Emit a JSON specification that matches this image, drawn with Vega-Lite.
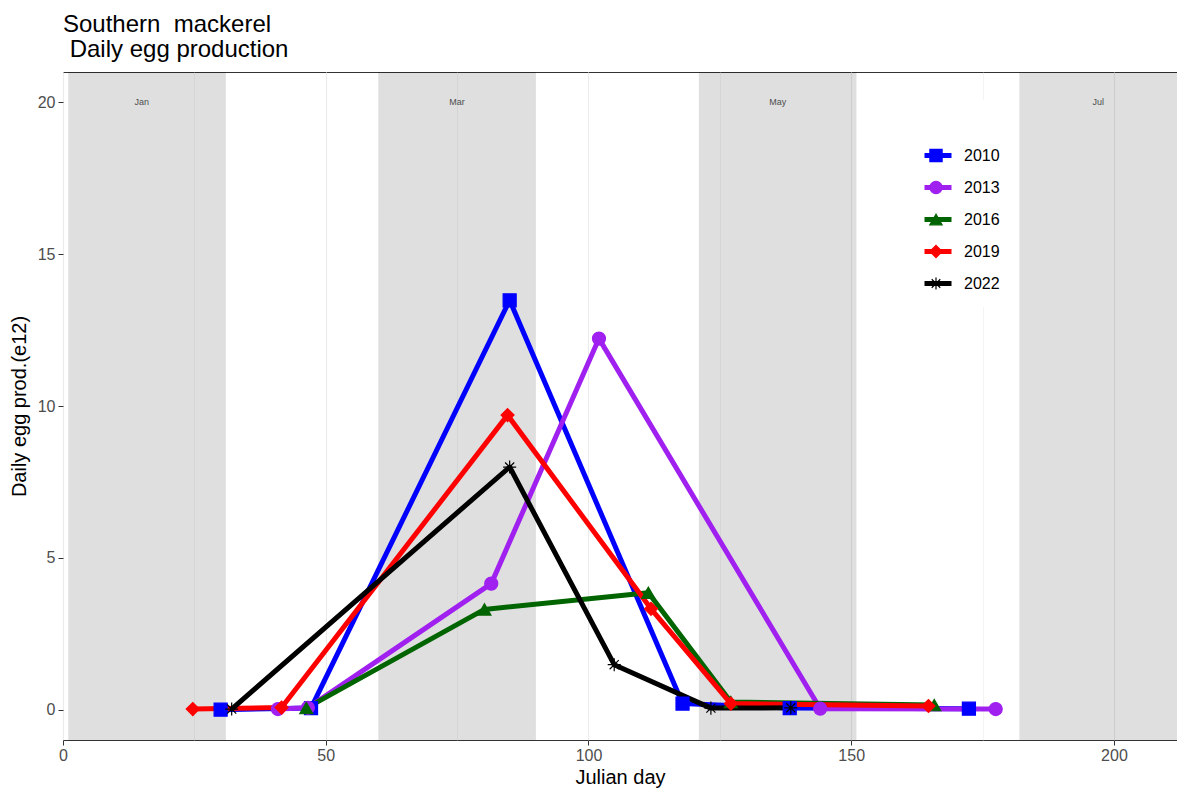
{
  "$schema": "https://vega.github.io/schema/vega-lite/v6.json",
  "width": 1114,
  "height": 668,
  "autosize": {"type": "none"},
  "padding": {"left": 63, "top": 72, "right": 0, "bottom": 49},
  "background": "white",
  "title": {"text": ["Southern\u00a0 mackerel", "\u200b\u00a0Daily egg production"], "anchor": "start", "frame": "group", "font": "Liberation Sans", "fontSize": 24, "fontWeight": "normal", "color": "black", "lineHeight": 25, "offset": 10},
  "config": {"view": {"stroke": "#333333", "strokeWidth": 1}, "font": "Liberation Sans"},
  "datasets": {
    "months": [
      {"month": "Jan", "start": 1, "end": 31, "mid": 15},
      {"month": "Mar", "start": 60, "end": 90, "mid": 75},
      {"month": "May", "start": 121, "end": 151, "mid": 136},
      {"month": "Jul", "start": 182, "end": 212, "mid": 197}
    ],
    "eggs": [
      {"year": "2010", "series": "2010", "day": 30, "dep": 0},
      {"year": "2010", "series": "2010", "day": 47.2, "dep": 0.05},
      {"year": "2010", "series": "2010", "day": 85, "dep": 13.48},
      {"year": "2010", "series": "2010", "day": 117.9, "dep": 0.2},
      {"year": "2010", "series": "2010", "day": 138.3, "dep": 0.05},
      {"year": "2010", "series": "2010", "day": 172.4, "dep": 0.03},
      {"year": "2013", "series": "2013", "day": 40.9, "dep": 0.02},
      {"year": "2013", "series": "2013", "day": 46.6, "dep": 0.06},
      {"year": "2013", "series": "2013", "day": 81.5, "dep": 4.15},
      {"year": "2013", "series": "2013", "day": 102, "dep": 12.22},
      {"year": "2013", "series": "2013", "day": 144.1, "dep": 0.03},
      {"year": "2013", "series": "2013", "day": 177.5, "dep": 0.02},
      {"year": "2016", "series": "2016", "day": 46.3, "dep": 0.05},
      {"year": "2016", "series": "2016", "day": 80.2, "dep": 3.3},
      {"year": "2016", "series": "2016", "day": 111.4, "dep": 3.85},
      {"year": "2016", "series": "2016", "day": 127.1, "dep": 0.25},
      {"year": "2016", "series": "2016", "day": 165.8, "dep": 0.15},
      {"year": "2019", "series": "2019", "day": 24.7, "dep": 0.02},
      {"year": "2019", "series": "2019", "day": 41.6, "dep": 0.07},
      {"year": "2019", "series": "2019", "day": 84.6, "dep": 9.7},
      {"year": "2019", "series": "2019", "day": 111.9, "dep": 3.32},
      {"year": "2019", "series": "2019", "day": 127.1, "dep": 0.2},
      {"year": "2019", "series": "2019", "day": 164.7, "dep": 0.12},
      {"year": "2022", "series": "2022", "day": 32.1, "dep": 0.02},
      {"year": "2022", "series": "2022", "day": 85, "dep": 7.99},
      {"year": "2022", "series": "2022", "day": 104.9, "dep": 1.48},
      {"year": "2022", "series": "2022", "day": 123.3, "dep": 0.05},
      {"year": "2022", "series": "2022", "day": 138.5, "dep": 0.06}
    ]
  },
  "layer": [
    {
      "data": {"name": "months"},
      "mark": {"type": "rect", "fill": "#000000", "fillOpacity": 0.125},
      "encoding": {
        "x": {"field": "start", "type": "quantitative", "scale": {"domain": [0, 212], "nice": false, "zero": false},
          "axis": {"title": "Julian day", "values": [0, 25, 50, 75, 100, 125, 150, 175, 200], "format": "d", "labelFlush": false, "labelExpr": "datum.value % 50 === 0 ? datum.label : ''", "tickOpacity": {"condition": {"test": "datum.value % 50 === 0", "value": 1}, "value": 0}, "gridWidth": {"condition": {"test": "datum.value % 50 === 0", "value": 1.1}, "value": 0.55}, "gridColor": "#ebebeb", "domain": false, "tickColor": "#333333", "tickSize": 5, "labelFontSize": 16, "labelColor": "#4d4d4d", "labelFont": "Liberation Sans", "labelPadding": 2, "titleFont": "Liberation Sans", "titleFontSize": 20, "titleFontWeight": "normal", "titleColor": "black", "titlePadding": 4}},
        "x2": {"field": "end"}
      }
    },
    {
      "data": {"name": "months"},
      "mark": {"type": "text", "fontSize": 9, "color": "#4d4d4d", "font": "Liberation Sans"},
      "encoding": {
        "x": {"field": "mid", "type": "quantitative", "scale": {"domain": [0, 212], "nice": false, "zero": false},
          "axis": {"title": "Julian day", "values": [0, 25, 50, 75, 100, 125, 150, 175, 200], "format": "d", "labelFlush": false, "labelExpr": "datum.value % 50 === 0 ? datum.label : ''", "tickOpacity": {"condition": {"test": "datum.value % 50 === 0", "value": 1}, "value": 0}, "gridWidth": {"condition": {"test": "datum.value % 50 === 0", "value": 1.1}, "value": 0.55}, "gridColor": "#ebebeb", "domain": false, "tickColor": "#333333", "tickSize": 5, "labelFontSize": 16, "labelColor": "#4d4d4d", "labelFont": "Liberation Sans", "labelPadding": 2, "titleFont": "Liberation Sans", "titleFontSize": 20, "titleFontWeight": "normal", "titleColor": "black", "titlePadding": 4}},
        "y": {"datum": 20, "type": "quantitative", "scale": {"domain": [-1, 21], "nice": false, "zero": false},
          "axis": {"title": "Daily egg prod.(e12)", "values": [0, 2.5, 5, 7.5, 10, 12.5, 15, 17.5, 20], "labelExpr": "datum.value % 5 === 0 ? datum.label : ''", "tickOpacity": {"condition": {"test": "datum.value % 5 === 0", "value": 1}, "value": 0}, "gridWidth": {"condition": {"test": "datum.value % 5 === 0", "value": 1.1}, "value": 0.55}, "gridColor": "#ebebeb", "domain": false, "tickColor": "#333333", "tickSize": 5, "labelFontSize": 16, "labelColor": "#4d4d4d", "labelFont": "Liberation Sans", "labelPadding": 3, "titleFont": "Liberation Sans", "titleFontSize": 20, "titleFontWeight": "normal", "titleColor": "black", "titlePadding": 8}},
        "text": {"field": "month"}
      }
    },
    {
      "data": {"name": "eggs"},
      "mark": {"type": "line", "strokeWidth": 5, "strokeJoin": "round"},
      "encoding": {
        "x": {"field": "day", "type": "quantitative", "scale": {"domain": [0, 212], "nice": false, "zero": false},
          "axis": {"title": "Julian day", "values": [0, 25, 50, 75, 100, 125, 150, 175, 200], "format": "d", "labelFlush": false, "labelExpr": "datum.value % 50 === 0 ? datum.label : ''", "tickOpacity": {"condition": {"test": "datum.value % 50 === 0", "value": 1}, "value": 0}, "gridWidth": {"condition": {"test": "datum.value % 50 === 0", "value": 1.1}, "value": 0.55}, "gridColor": "#ebebeb", "domain": false, "tickColor": "#333333", "tickSize": 5, "labelFontSize": 16, "labelColor": "#4d4d4d", "labelFont": "Liberation Sans", "labelPadding": 2, "titleFont": "Liberation Sans", "titleFontSize": 20, "titleFontWeight": "normal", "titleColor": "black", "titlePadding": 4}},
        "y": {"field": "dep", "type": "quantitative", "scale": {"domain": [-1, 21], "nice": false, "zero": false},
          "axis": {"title": "Daily egg prod.(e12)", "values": [0, 2.5, 5, 7.5, 10, 12.5, 15, 17.5, 20], "labelExpr": "datum.value % 5 === 0 ? datum.label : ''", "tickOpacity": {"condition": {"test": "datum.value % 5 === 0", "value": 1}, "value": 0}, "gridWidth": {"condition": {"test": "datum.value % 5 === 0", "value": 1.1}, "value": 0.55}, "gridColor": "#ebebeb", "domain": false, "tickColor": "#333333", "tickSize": 5, "labelFontSize": 16, "labelColor": "#4d4d4d", "labelFont": "Liberation Sans", "labelPadding": 3, "titleFont": "Liberation Sans", "titleFontSize": 20, "titleFontWeight": "normal", "titleColor": "black", "titlePadding": 8}},
        "color": {"field": "series", "type": "nominal",
          "scale": {"range": ["#0000ff", "#a020f0", "#006400", "#ff0000", "#000000"]},
          "legend": {"orient": "none", "legendX": 849, "legendY": 28, "zindex": 1, "title": " ", "titleFontSize": 16, "titlePadding": 16, "symbolType": "stroke", "symbolStrokeWidth": 5, "symbolSize": 729, "clipHeight": 27, "rowPadding": 5, "labelFontSize": 16, "labelFont": "Liberation Sans", "labelColor": "black", "labelOffset": 10, "fillColor": "white", "padding": 10}}
      }
    },
    {
      "data": {"name": "eggs"},
      "mark": {"type": "point", "filled": true, "strokeWidth": 1.2, "opacity": 1},
      "encoding": {
        "x": {"field": "day", "type": "quantitative", "scale": {"domain": [0, 212], "nice": false, "zero": false},
          "axis": {"title": "Julian day", "values": [0, 25, 50, 75, 100, 125, 150, 175, 200], "format": "d", "labelFlush": false, "labelExpr": "datum.value % 50 === 0 ? datum.label : ''", "tickOpacity": {"condition": {"test": "datum.value % 50 === 0", "value": 1}, "value": 0}, "gridWidth": {"condition": {"test": "datum.value % 50 === 0", "value": 1.1}, "value": 0.55}, "gridColor": "#ebebeb", "domain": false, "tickColor": "#333333", "tickSize": 5, "labelFontSize": 16, "labelColor": "#4d4d4d", "labelFont": "Liberation Sans", "labelPadding": 2, "titleFont": "Liberation Sans", "titleFontSize": 20, "titleFontWeight": "normal", "titleColor": "black", "titlePadding": 4}},
        "y": {"field": "dep", "type": "quantitative", "scale": {"domain": [-1, 21], "nice": false, "zero": false},
          "axis": {"title": "Daily egg prod.(e12)", "values": [0, 2.5, 5, 7.5, 10, 12.5, 15, 17.5, 20], "labelExpr": "datum.value % 5 === 0 ? datum.label : ''", "tickOpacity": {"condition": {"test": "datum.value % 5 === 0", "value": 1}, "value": 0}, "gridWidth": {"condition": {"test": "datum.value % 5 === 0", "value": 1.1}, "value": 0.55}, "gridColor": "#ebebeb", "domain": false, "tickColor": "#333333", "tickSize": 5, "labelFontSize": 16, "labelColor": "#4d4d4d", "labelFont": "Liberation Sans", "labelPadding": 3, "titleFont": "Liberation Sans", "titleFontSize": 20, "titleFontWeight": "normal", "titleColor": "black", "titlePadding": 8}},
        "size": {"field": "series", "type": "nominal", "scale": {"range": [170, 170, 250, 150, 240]}, "legend": null},
        "fill": {"field": "year", "type": "nominal",
          "scale": {"domain": ["2010", "2013", "2016", "2019", "2022"], "range": ["#0000ff", "#a020f0", "#006400", "#ff0000", "#000000"]},
          "legend": {"orient": "none", "legendX": 856, "legendY": 28, "zindex": 2, "title": " ", "titleFontSize": 16, "titlePadding": 16, "symbolSize": 150, "symbolStrokeWidth": 1.2, "clipHeight": 27, "rowPadding": 5, "labelFontSize": 1, "labelFont": "Liberation Sans", "labelColor": "transparent", "labelOffset": 10, "padding": 10}},
        "stroke": {"field": "year", "type": "nominal",
          "scale": {"domain": ["2010", "2013", "2016", "2019", "2022"], "range": ["#0000ff", "#a020f0", "#006400", "#ff0000", "#000000"]},
          "legend": {"orient": "none", "legendX": 856, "legendY": 28, "zindex": 2, "title": " ", "titleFontSize": 16, "titlePadding": 16, "symbolSize": 150, "symbolStrokeWidth": 1.2, "clipHeight": 27, "rowPadding": 5, "labelFontSize": 1, "labelFont": "Liberation Sans", "labelColor": "transparent", "labelOffset": 10, "padding": 10}},
        "shape": {"field": "year", "type": "nominal",
          "scale": {"domain": ["2010", "2013", "2016", "2019", "2022"], "range": ["square", "circle", "triangle-up", "diamond", "M0,-1L0,1M-1,0L1,0M-0.7,-0.7L0.7,0.7M-0.7,0.7L0.7,-0.7"]},
          "legend": {"orient": "none", "legendX": 856, "legendY": 28, "zindex": 2, "title": " ", "titleFontSize": 16, "titlePadding": 16, "symbolSize": 150, "symbolStrokeWidth": 1.2, "clipHeight": 27, "rowPadding": 5, "labelFontSize": 1, "labelFont": "Liberation Sans", "labelColor": "transparent", "labelOffset": 10, "padding": 10}}
      }
    }
  ]
}
